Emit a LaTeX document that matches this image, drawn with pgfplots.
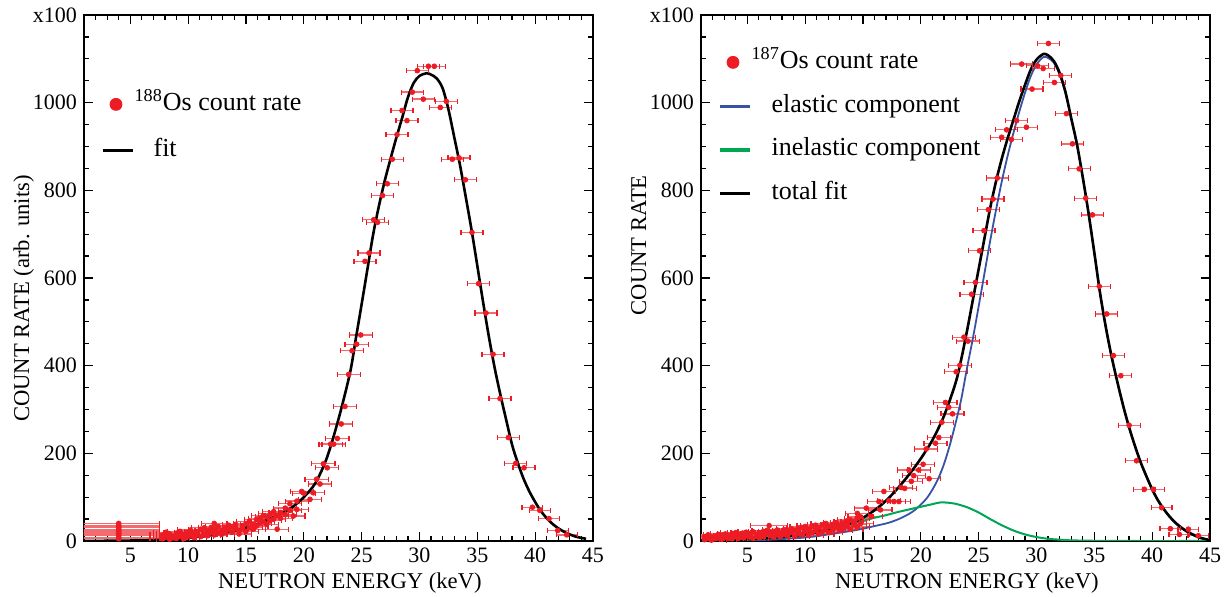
\documentclass[border=0pt]{standalone}
\usepackage{fontspec}
\setmainfont{Liberation Serif}
\usepackage{pgfplots}
\pgfplotsset{compat=1.18}
\usepackage{pgfplotstable}

\definecolor{ptred}{HTML}{ED1C24}
\definecolor{barred}{HTML}{F26B6F}
\definecolor{elblue}{HTML}{3953A4}
\definecolor{ingreen}{HTML}{00A651}

% 188Os data: energy, count rate, energy half-width
\pgfplotstableread{
x y ex
4.0 40 3.55
4.0 36 3.55
4.0 33 3.55
4.0 30 3.55
4.0 27 3.55
4.0 24 3.55
4.0 21 3.55
4.0 18 3.55
4.0 16 3.55
4.0 12 3.55
4.0 8 3.55
4.0 5 3.55
7.8 5 1.1
7.8 14 1.1
8.1 9 1.1
8.1 20 1.1
8.4 4 1.1
8.4 16 1.1
8.7 11 1.1
8.7 7 1.1
9.0 18 1.1
9.0 6 1.1
9.3 10 1.1
9.3 22 1.1
9.6 14 1.1
9.6 5 1.1
9.9 20 1.1
9.9 9 1.1
10.2 12 1.1
10.2 25 1.1
10.5 8 1.1
10.5 18 1.1
10.8 22 1.1
10.8 14 1.1
11.1 10 1.1
11.1 27 1.1
11.4 16 1.1
11.4 30 1.1
11.7 24 1.1
11.7 12 1.1
12.0 19 1.1
12.0 31 1.1
12.26 40 1.1
12.3 14 1.1
12.3 27 1.1
12.6 33 1.1
12.6 20 1.1
12.9 23 1.1
12.9 15 1.1
13.2 30 1.1
13.2 19 1.1
13.5 26 1.1
13.5 36 1.1
13.8 20 1.1
13.8 33 1.1
14.1 29 1.1
14.1 38 1.1
14.4 24 1.1
14.4 16 1.1
14.7 35 1.1
14.7 28 1.1
15.0 40 1.1
15.0 22 1.1
15.3 31 1.1
15.3 45 1.1
15.6 38 1.1
15.6 27 1.1
15.9 49 1.0
15.9 34 1.0
16.2 52 1.0
16.2 40 1.0
16.5 44 1.0
16.5 58 1.0
16.8 55 1.0
16.8 38 1.0
17.1 62 1.0
17.1 47 1.0
17.4 50 1.0
17.4 67 1.0
17.7 27 1.0
17.7 58 1.0
18.0 65 1.0
18.0 52 1.0
18.4 75 1.0
18.4 60 1.0
18.8 70 1.0
18.8 85 1.0
19.1 57 1.0
19.4 91 1.0
19.4 72 1.0
19.82 113 1.0
20.02 109 1.0
20.54 95 1.0
20.82 110 1.0
21.11 141 1.0
21.40 130 1.0
21.69 176 1.0
22.03 167 1.0
22.32 221 1.0
22.58 221 1.0
22.90 234 1.0
23.24 267 1.0
23.56 307 1.0
23.88 380 1.0
24.17 434 1.0
24.57 449 1.0
24.92 470 1.0
25.29 638 0.95
25.64 657 0.95
26.04 733 0.95
26.38 727 0.95
26.81 788 0.95
27.22 815 0.95
27.65 871 0.95
28.06 927 0.95
28.49 982 0.95
28.92 959 0.95
29.38 1024 0.95
29.81 1073 0.95
30.33 1008 0.95
30.77 1083 0.95
31.28 1083 0.95
31.80 989 0.95
32.32 1003 0.95
32.84 871 0.95
33.42 874 0.95
33.97 824 0.95
34.54 704 0.95
35.11 587 0.95
35.75 520 0.95
36.36 426 0.95
36.96 325 0.95
37.68 236 0.95
38.32 177 0.95
39.04 167 0.95
39.76 77 0.9
40.40 70 0.9
41.20 51 0.9
41.95 24 0.9
42.73 14 0.9
}\leftdata

\pgfplotstableread{
x y
1 0
3 0.5
5 1
7 2
9 5
11 10
13 18
15 30
16 39
17 50
18 62
19 77
20 100
21 132
22 190
23 278
24 384
24.5 462
25 540
25.5 620
26 700
26.5 765
27 822
27.5 872
28 920
28.5 965
29 1012
29.5 1045
30 1061
30.6 1067
31 1064
31.5 1055
32 1033
32.5 985
33 922
33.5 858
34 785
34.5 710
35 628
35.5 545
36 466
36.5 395
37 333
37.5 276
38 220
38.5 178
39 142
39.5 113
40 89
40.5 68
41 52
41.5 39
42 29
42.5 21
43 15
43.5 10
44 7
44.4 5
}\leftfit

% 187Os data
\pgfplotstableread{
x y ex
1.3 3 1.3
1.3 10 1.3
1.6 6 1.3
1.6 14 1.3
1.9 2 1.3
1.9 9 1.3
2.2 11 1.3
2.2 5 1.3
2.5 7 1.3
2.5 15 1.3
2.8 4 1.3
2.8 12 1.3
3.1 9 1.3
3.1 16 1.3
3.4 13 1.3
3.4 6 1.3
3.7 5 1.3
3.7 17 1.3
4.0 10 1.3
4.0 19 1.3
4.3 15 1.3
4.3 7 1.3
4.6 8 1.3
4.6 18 1.3
4.9 12 1.3
4.9 20 1.3
5.2 17 1.3
5.2 9 1.3
5.5 6 1.3
5.5 21 1.3
5.8 14 1.3
5.8 11 1.3
6.1 19 1.3
6.1 8 1.3
6.4 10 1.3
6.4 22 1.3
6.7 16 1.3
6.7 24 1.3
6.89 35 1.6
7.0 12 1.3
7.0 20 1.3
7.3 22 1.3
7.3 9 1.3
7.6 14 1.3
7.6 25 1.3
7.9 18 1.3
7.9 11 1.3
8.2 26 1.3
8.2 15 1.3
8.5 13 1.3
8.5 23 1.3
8.8 20 1.3
8.8 28 1.3
9.1 10 1.3
9.1 24 1.3
9.4 29 1.3
9.4 17 1.3
9.7 15 1.3
9.7 31 1.3
10.0 22 1.3
10.0 33 1.3
10.3 27 1.3
10.3 13 1.3
10.6 34 1.3
10.6 19 1.3
10.9 24 1.3
10.9 36 1.3
11.2 30 1.3
11.2 16 1.3
11.5 37 1.3
11.5 22 1.3
11.8 28 1.3
11.8 40 1.3
12.1 19 1.1
12.1 33 1.1
12.4 38 1.1
12.4 26 1.1
12.7 31 1.1
12.7 42 1.1
13.0 24 1.1
13.0 36 1.1
13.3 41 1.1
13.3 29 1.1
13.6 34 1.1
13.6 45 1.1
13.9 27 1.1
13.9 48 1.1
14.2 44 1.1
14.2 37 1.1
14.5 52 1.1
14.5 32 1.1
14.8 40 1.1
14.8 55 1.1
14.51 63 1.0
15.29 75 1.0
15.72 56 1.0
16.38 90 1.0
16.51 71 1.0
16.81 113 1.0
17.24 92 1.0
17.68 90 1.0
18.11 90 1.0
18.30 122 1.0
18.61 120 1.0
18.98 162 1.0
19.18 136 1.0
19.39 149 1.0
19.82 162 1.0
20.20 175 1.0
20.47 210 1.0
20.72 142 1.0
21.27 223 1.0
21.56 236 1.0
21.82 271 1.0
22.13 316 1.0
22.42 305 1.0
22.74 290 1.0
23.06 386 1.0
23.38 401 1.0
23.73 465 1.0
24.08 456 1.0
24.39 563 1.0
24.73 590 1.0
25.08 662 0.95
25.46 708 0.95
25.84 756 0.95
26.24 780 0.95
26.61 828 0.95
26.99 921 0.95
27.42 938 0.95
27.83 916 0.95
28.28 959 0.95
28.72 1088 0.95
29.13 944 0.95
29.62 1031 0.95
30.10 1084 0.95
30.58 1078 0.95
31.03 1135 0.95
31.55 1046 0.95
32.10 1062 0.95
32.59 975 0.95
33.11 906 0.95
33.69 849 0.95
34.26 782 0.95
34.84 744 0.95
35.43 581 0.95
36.07 518 0.95
36.65 423 0.95
37.29 377 0.95
38.01 264 0.95
38.65 183 0.95
39.32 118 0.95
40.10 118 0.95
40.82 76 0.9
41.57 28 0.9
42.35 15 0.9
43.13 27 0.9
43.99 12 0.9
}\rightdata

\pgfplotstableread{
x y
1 1
3 2
5 4
7 7
9 12
10 15
11 20
12 26
13 33
14 41
15 53
16 70
17 92
18 120
19 152
20 188
21 230
22 285
23 360
23.5 415
24 480
24.5 550
25 620
25.5 690
26 760
26.5 820
27 872
27.5 918
28 960
28.5 1002
29 1040
29.5 1075
30 1098
30.6 1111
31 1108
31.5 1095
32 1068
32.5 1025
33 965
33.5 905
34 830
34.5 748
35 658
35.5 565
36 487
36.5 420
37 362
37.5 308
38 260
38.5 218
39 180
39.5 148
40 118
40.5 93
41 73
41.5 56
42 42
42.5 31
43 22
43.5 15
44 9
44.5 5
45 2
}\totalfit

\pgfplotstableread{
x y
1 0
3 0.5
5 1.5
7 3
9 6
10 8
11 11
12 15
13 19
14 23
15 28
16 34
17 40
17.5 44
18 49
18.5 55
19 62
19.5 71
20 83
20.5 97
21 117
21.5 142
22 175
22.5 218
23 268
23.5 324
24 395
24.5 462
25 535
25.5 610
26 685
26.5 755
27 820
27.5 878
28 930
28.5 978
29 1022
29.5 1060
30 1087
30.6 1104
31 1102
31.5 1091
32 1064
32.5 1022
33 963
33.5 904
34 829
34.5 747
35 657
35.5 564
36 486
36.5 419
37 361
37.5 307
38 259
38.5 217
39 179
39.5 147
40 117
40.5 92
41 72
41.5 55
42 41
42.5 30
43 21
43.5 14
44 8
44.5 4
45 1
}\elasticfit

\pgfplotstableread{
x y
1 0.5
3 1.5
5 4
7 7
9 12
10 16
11 21
12 26
13 32
14 39
15 46
16 53
17 59
18 66
19 72
20 78
21 84
21.7 88
22.5 87
23 85
24 77
25 65
26 50
27 36
28 24
29 15
30 9
31 5
32 3
33 1.5
35 0.5
38 0
45 0
}\inelasticfit

\pgfplotsset{
  panel/.style={
    scale only axis, width=254.5pt, height=263pt, anchor=south west,
    xmin=1, xmax=45, ymin=0, ymax=1200,
    xtick={5,10,...,45}, xticklabels={5,10,15,20,25,30,35,40,45},
    ytick={0,200,...,1200}, yticklabels={0,200,400,600,800,1000,x100},
    minor xtick={1,2,...,45}, minor ytick={0,50,...,1200},
    tick align=inside, major tick length=4.5pt, minor tick length=2.5pt,
    tick style={black, line width=0.6pt},
    axis line style={black, line width=0.7pt},
    /pgf/number format/assume math mode=true,
    tick label style={font=\fontsize{11}{13}\selectfont},
    xlabel={NEUTRON ENERGY (keV)},
    xlabel style={font=\fontsize{11.3}{13}\selectfont, inner sep=0pt,
      at={(axis description cs:0.782,-0.0894)}, anchor=base east},
    ylabel style={font=\fontsize{11.3}{13}\selectfont, inner sep=0pt,
      at={(axis description cs:-0.108,0.696)}, anchor=base east},
    legend cell align=left,
    legend style={anchor=north west, draw=none, fill=none, inner sep=0pt, column sep=0pt,
      font=\fontsize{13}{15}\selectfont,
      nodes={inner sep=0pt, text height=9pt, text depth=3pt}},
  },
  dots/.style={only marks, mark=*, mark size=1.2pt, color=ptred,
    mark options={draw=ptred, fill=ptred},
    error bars/x dir=both, error bars/x explicit, error bars/error mark=none,
    error bars/error bar style={barred, line width=0.65pt},
    legend image code/.code={\fill[ptred] (6.5pt,0pt) circle (3pt); \path[draw=none, fill=none] (0pt,0pt) -- (15pt,0pt);}},
  caps/.style={only marks, mark=|, mark size=1.3pt, forget plot,
    mark options={draw=ptred, line width=0.6pt}},
}

\begin{document}
\begin{tikzpicture}
\path[use as bounding box] (-42pt,-28pt) rectangle (571.5pt,270.5pt);

\begin{axis}[panel, at={(0pt,0pt)},
  ylabel={COUNT RATE (arb. units)},
  legend style={at={(0.0334,0.8536)}, row sep=11pt}]
\addplot[caps] table[x expr=\thisrow{x}-\thisrow{ex}, y=y] {\leftdata};
\addplot[caps] table[x expr=\thisrow{x}+\thisrow{ex}, y=y] {\leftdata};
\addplot[dots] table[x=x, y=y, x error=ex] {\leftdata};
\addlegendentry{\textsuperscript{188}Os count rate}
\addplot[black, line width=1.3pt, smooth,
  legend image code/.code={\draw[black, line width=1.6pt] (0pt,0pt) -- (15pt,0pt);}]
  table[x=x, y=y] {\leftfit};
\addlegendentry{\hspace*{9.5pt}fit}
\end{axis}

\begin{axis}[panel, at={(308.5pt,0pt)},
  ylabel={COUNT RATE},
  legend style={at={(0.0334,0.9335)}, row sep=9.9pt}]
\addplot[caps] table[x expr=\thisrow{x}-\thisrow{ex}, y=y] {\rightdata};
\addplot[caps] table[x expr=\thisrow{x}+\thisrow{ex}, y=y] {\rightdata};
\addplot[dots] table[x=x, y=y, x error=ex] {\rightdata};
\addlegendentry{\textsuperscript{187}Os count rate}
\addplot[elblue, line width=0.9pt, smooth,
  legend image code/.code={\draw[elblue, line width=1.6pt] (0pt,0pt) -- (15pt,0pt);}]
  table[x=x, y=y] {\elasticfit};
\addlegendentry{\hspace*{10pt}elastic component}
\addplot[ingreen, line width=1pt, smooth,
  legend image code/.code={\draw[ingreen, line width=1.6pt] (0pt,0pt) -- (15pt,0pt);}]
  table[x=x, y=y] {\inelasticfit};
\addlegendentry{\hspace*{10pt}inelastic component}
\addplot[black, line width=1.3pt, smooth,
  legend image code/.code={\draw[black, line width=1.6pt] (0pt,0pt) -- (15pt,0pt);}]
  table[x=x, y=y] {\totalfit};
\addlegendentry{\hspace*{10pt}total fit}
\end{axis}
\end{tikzpicture}
\end{document}
